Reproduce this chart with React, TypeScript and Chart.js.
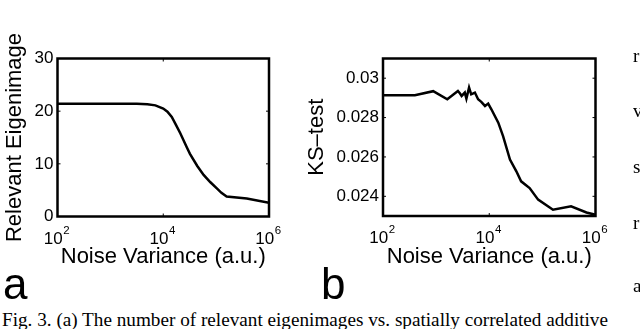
import React, { useEffect, useRef } from "react";
import { Chart, registerables } from "chart.js";
Chart.register(...registerables);

// ---------- data ----------
const xTickValues = [1e2, 1e4, 1e6];
const xTickExponents = ["2", "4", "6"];

const noiseVarA = [100, 316, 1000, 3160, 5000, 7100, 10000, 12000, 14500, 17000, 21000, 28000, 32000, 44000, 58000, 78000, 102000, 126000, 158000, 380000, 1000000];
const relevantEigen = [21.4, 21.4, 21.4, 21.4, 21.3, 21.1, 20.5, 19.9, 18.9, 17.6, 15.8, 13.1, 11.9, 9.6, 7.9, 6.5, 5.4, 4.5, 3.8, 3.4, 2.6];
const yTicksA = [0, 10, 20, 30];

const noiseVarB = [100, 398, 881, 1622, 2570, 2818, 3020, 3467, 3715, 3981, 4169, 4571, 5370, 6166, 7079, 8318, 9550, 10965, 14791, 18197, 24547, 32359, 39811, 57544, 83176, 158489, 346737, 676083, 1000000];
const ksTest = [0.02913, 0.02913, 0.02934, 0.02893, 0.02935, 0.02922, 0.0291, 0.02927, 0.02896, 0.0293, 0.02953, 0.02918, 0.02927, 0.02893, 0.0288, 0.02859, 0.02871, 0.02842, 0.02774, 0.02706, 0.02587, 0.02527, 0.02476, 0.02442, 0.02383, 0.02332, 0.02349, 0.02318, 0.02306];
const yTicksB = [0.024, 0.026, 0.028, 0.03];

const captionText = "Fig. 3. (a) The number of relevant eigenimages vs. spatially correlated additive";
const sideLetters = ["r", "v", "s", "r", "a"];
const sideLetterTops = [46, 101, 157, 213, 276];

const SANS = '"Liberation Sans", Arial, Helvetica, sans-serif';

const framePlugin = {
  id: "matlabFrame",
  afterDraw(chart: any) {
    const { ctx, chartArea: a, scales } = chart;
    const xs = scales.x;
    const ys = scales.y;
    ctx.save();
    ctx.strokeStyle = "#000";
    // inward tick marks
    ctx.lineWidth = 1;
    const tl = 3;
    xTickValues.forEach((v) => {
      const px = xs.getPixelForValue(v);
      ctx.beginPath();
      ctx.moveTo(px, a.bottom);
      ctx.lineTo(px, a.bottom - tl);
      ctx.moveTo(px, a.top);
      ctx.lineTo(px, a.top + tl);
      ctx.stroke();
    });
    ys.ticks.forEach((t: any) => {
      const py = ys.getPixelForValue(t.value);
      ctx.beginPath();
      ctx.moveTo(a.left, py);
      ctx.lineTo(a.left + tl, py);
      ctx.moveTo(a.right, py);
      ctx.lineTo(a.right - tl, py);
      ctx.stroke();
    });
    // frame
    ctx.lineWidth = 2.5;
    ctx.strokeRect(a.left, a.top, a.right - a.left, a.bottom - a.top);
    // x tick labels 10^n
    ctx.fillStyle = "#000";
    ctx.textBaseline = "alphabetic";
    ctx.textAlign = "left";
    const bigFont = `17px ${SANS}`;
    const smallFont = `11.5px ${SANS}`;
    xTickValues.forEach((v, i) => {
      const px = xs.getPixelForValue(v);
      ctx.font = bigFont;
      const w1 = ctx.measureText("10").width;
      ctx.font = smallFont;
      const w2 = ctx.measureText(xTickExponents[i]).width;
      const start = px - (w1 + w2) / 2 - 1;
      ctx.font = bigFont;
      ctx.fillText("10", start, a.bottom + 27);
      ctx.font = smallFont;
      ctx.fillText(xTickExponents[i], start + w1 + 0.5, a.bottom + 17);
    });
    ctx.restore();
  },
};

function makeConfig(opts: {
  xs: number[];
  ys: number[];
  yMin: number;
  yMax: number;
  yTicks: number[];
  yTitle: string;
  yTitlePad: number;
  yWidth: number;
  xHeight: number;
  padTop: number;
  padRight: number;
  fmt: (v: number) => string;
}): any {
  return {
    type: "line",
    data: {
      datasets: [
        {
          data: opts.xs.map((x, i) => ({ x, y: opts.ys[i] })),
          borderColor: "#000",
          borderWidth: 2.5,
          pointRadius: 0,
          tension: 0,
          fill: false,
        },
      ],
    },
    options: {
      animation: false,
      responsive: false,
      maintainAspectRatio: false,
      layout: { padding: { top: opts.padTop, right: opts.padRight, left: 0, bottom: 0 } },
      plugins: { legend: { display: false }, tooltip: { enabled: false }, title: { display: false } },
      scales: {
        x: {
          type: "logarithmic",
          position: "bottom",
          min: 100,
          max: 1e6,
          grid: { display: false },
          border: { display: false },
          ticks: { display: false },
          title: {
            display: true,
            text: "Noise Variance (a.u.)",
            color: "#000",
            font: { size: 22, family: SANS },
            padding: { top: 0, bottom: 2 },
          },
          afterFit: (s: any) => {
            s.height = opts.xHeight;
          },
        },
        y: {
          type: "linear",
          position: "left",
          min: opts.yMin,
          max: opts.yMax,
          grid: { display: false, drawTicks: false },
          border: { display: false },
          afterBuildTicks: (s: any) => {
            s.ticks = opts.yTicks.map((value) => ({ value }));
          },
          ticks: {
            color: "#000",
            font: { size: 17, family: SANS },
            padding: 4,
            callback: (v: any) => opts.fmt(Number(v)),
          },
          title: {
            display: true,
            text: opts.yTitle,
            color: "#000",
            font: { size: 22, family: SANS },
            padding: { top: opts.yTitlePad, bottom: 0 },
          },
          afterFit: (s: any) => {
            s.width = opts.yWidth;
          },
        },
      },
    },
    plugins: [framePlugin],
  };
}

function ChartCanvas(props: { config: any; left: number; top: number; width: number; height: number }) {
  const ref = useRef<HTMLCanvasElement | null>(null);
  useEffect(() => {
    if (!ref.current) return;
    const chart = new Chart(ref.current, props.config);
    return () => chart.destroy();
  }, []);
  return (
    <canvas
      ref={ref}
      width={props.width}
      height={props.height}
      style={{ position: "absolute", left: props.left, top: props.top, width: props.width, height: props.height }}
    />
  );
}

export default function App() {
  const cfgA = makeConfig({
    xs: noiseVarA,
    ys: relevantEigen,
    yMin: 0,
    yMax: 30,
    yTicks: yTicksA,
    yTitle: "Relevant Eigenimage",
    yTitlePad: 1.7,
    yWidth: 57.5,
    xHeight: 272 - 216.5,
    padTop: 58.5,
    padRight: 300 - 269,
    fmt: (v) => String(v),
  });
  const cfgB = makeConfig({
    xs: noiseVarB,
    ys: ksTest,
    yMin: 0.023,
    yMax: 0.031,
    yTicks: yTicksB,
    yTitle: "KS\u2013test",
    yTitlePad: 4.2,
    yWidth: 83,
    xHeight: 272 - 216,
    padTop: 58.5,
    padRight: 340 - 295.5,
    fmt: (v) => String(Number(v.toFixed(4))),
  });
  return (
    <div
      style={{
        position: "fixed",
        left: 0,
        top: 0,
        width: 640,
        height: 329,
        overflow: "hidden",
        background: "#fff",
      }}
    >
      <ChartCanvas config={cfgA} left={0} top={0} width={300} height={272} />
      <ChartCanvas config={cfgB} left={300} top={0} width={340} height={272} />
      <div style={{ position: "absolute", left: 3, top: 262, font: `44px ${SANS}`, lineHeight: "44px", color: "#000" }}>a</div>
      <div style={{ position: "absolute", left: 321, top: 262, font: `44px ${SANS}`, lineHeight: "44px", color: "#000" }}>b</div>
      <div
        style={{
          position: "absolute",
          left: 2,
          top: 310,
          whiteSpace: "nowrap",
          fontFamily: '"Liberation Serif", "Times New Roman", serif',
          fontSize: 19.2,
          lineHeight: "19px",
          color: "#000",
        }}
      >
        {captionText}
      </div>
      {sideLetters.map((c, i) => (
        <div
          key={i}
          style={{
            position: "absolute",
            left: 633,
            top: sideLetterTops[i],
            fontFamily: '"Liberation Serif", "Times New Roman", serif',
            fontSize: 19,
            lineHeight: "19px",
            color: "#000",
          }}
        >
          {c}
        </div>
      ))}
    </div>
  );
}
